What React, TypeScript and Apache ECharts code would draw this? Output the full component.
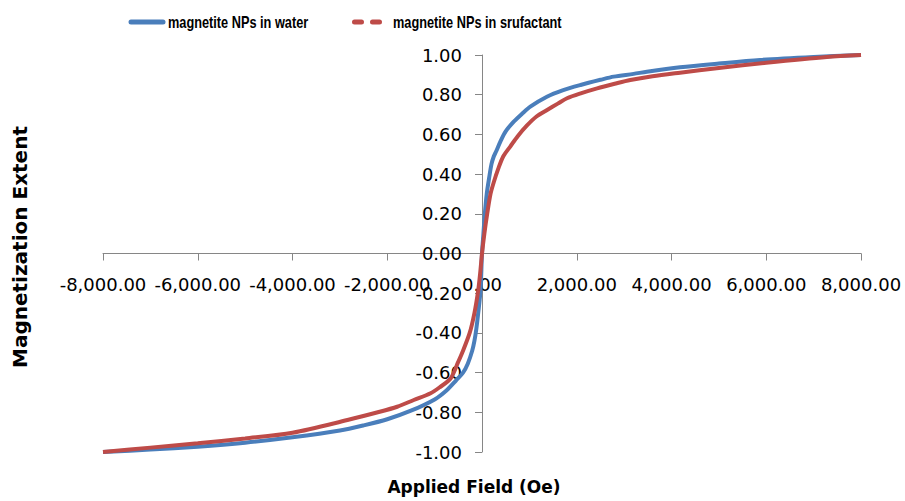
import React, { useEffect, useRef } from "react";
import * as echarts from "echarts";

const waterX = [-8000, -7000, -6000, -5000, -4000, -3000, -2500, -2000, -1500, -1000, -750, -550, -400, -300, -207, -160, -120, -80, -31, 0, 30, 60, 100, 150, 200, 250, 300, 390, 500, 670, 850, 1020, 1370, 1700, 2080, 2500, 2780, 3200, 3480, 4180, 5000, 5870, 7000, 8000];
const waterY = [-1.0, -0.988, -0.973, -0.953, -0.926, -0.892, -0.866, -0.835, -0.792, -0.735, -0.69, -0.64, -0.6, -0.555, -0.49, -0.44, -0.38, -0.3, -0.185, 0.0, 0.1, 0.2, 0.3, 0.38, 0.45, 0.49, 0.515, 0.565, 0.615, 0.664, 0.705, 0.74, 0.79, 0.822, 0.849, 0.875, 0.891, 0.905, 0.916, 0.938, 0.957, 0.975, 0.99, 1.0];

const surfX = [-8000, -7000, -6000, -5000, -4000, -2840, -2200, -1790, -1440, -1085, -900, -664, -500, -418, -260, -160, -80, -35, 0, 50, 110, 180, 250, 340, 450, 600, 750, 950, 1150, 1374, 1600, 1795, 2100, 2430, 2800, 3130, 3600, 4180, 5000, 6000, 7280, 8000];
const surfY = [-1.0, -0.978, -0.956, -0.932, -0.903, -0.839, -0.8, -0.772, -0.738, -0.704, -0.675, -0.63, -0.545, -0.5, -0.4, -0.3, -0.185, -0.09, 0, 0.1, 0.2, 0.3, 0.36, 0.425, 0.49, 0.54, 0.59, 0.645, 0.69, 0.723, 0.755, 0.782, 0.808, 0.832, 0.855, 0.874, 0.893, 0.911, 0.935, 0.961, 0.99, 1.0];

const seriesNames = ["magnetite NPs in water", "magnetite NPs in srufactant"];
const xTitle = "Applied Field (Oe)";
const yTitle = "Magnetization Extent";

const BLUE = "#4A7EBB";
const RED = "#BE4B48";

const GRID = { left: 103, right: 44, top: 55, bottom: 49 };
const W = 905;
const H = 501;

function fmt(v: number): string {
  const neg = v < 0;
  const abs = Math.abs(v);
  const fixed = abs.toFixed(2);
  const [intPart, dec] = fixed.split(".");
  const withSep = intPart.replace(/\B(?=(\d{3})+(?!\d))/g, ",");
  const s = withSep + "." + dec;
  return (neg && abs >= 0.005 ? "-" : "") + s;
}

export default function App() {
  const ref = useRef<HTMLDivElement>(null);
  useEffect(() => {
    const chart = echarts.init(ref.current!, null, { renderer: "svg" });
    const axisColor = "#868686";
    const xMin = -8000, xMax = 8000, yMin = -1, yMax = 1;
    const plotW = W - GRID.left - GRID.right;
    const plotH = H - GRID.top - GRID.bottom;
    // shift axes so they cross at the origin (0, 0)
    const yAxisOffset = -((0 - xMin) / (xMax - xMin)) * plotW;
    const xAxisOffset = -((0 - yMin) / (yMax - yMin)) * plotH;
    chart.setOption({
      animation: false,
      backgroundColor: "#ffffff",
      grid: { ...GRID, containLabel: false, outerBoundsMode: "none" },
      xAxis: {
        type: "value",
        min: xMin,
        max: xMax,
        interval: 2000,
        position: "bottom",
        offset: xAxisOffset,
        axisLine: { onZero: false, lineStyle: { color: axisColor, width: 1 } },
        axisTick: { show: true, length: 7, lineStyle: { color: axisColor } },
        splitLine: { show: false },
        axisLabel: {
          formatter: (v: number) => fmt(v),
          fontFamily: "DejaVu Sans",
          fontSize: 18,
          color: "#000",
          margin: 22,
          showMinLabel: true,
          showMaxLabel: true,
          hideOverlap: false,
        },
      },
      yAxis: {
        type: "value",
        min: yMin,
        max: yMax,
        interval: 0.2,
        position: "left",
        offset: yAxisOffset,
        axisLine: { onZero: false, lineStyle: { color: axisColor, width: 1 } },
        axisTick: { show: true, length: 7, lineStyle: { color: axisColor } },
        splitLine: { show: false },
        axisLabel: {
          formatter: (v: number) => fmt(v),
          fontFamily: "DejaVu Sans",
          fontSize: 18,
          color: "#000",
          margin: 20,
          showMinLabel: true,
          showMaxLabel: true,
          hideOverlap: false,
        },
      },
      graphic: [
        {
          type: "text",
          x: 474,
          y: 487,
          style: {
            text: xTitle,
            font: 'bold 17px "DejaVu Sans", sans-serif',
            fill: "#000",
            align: "center",
            verticalAlign: "middle",
          },
        },
        {
          type: "text",
          x: 20,
          y: 247,
          rotation: Math.PI / 2,
          style: {
            text: yTitle,
            font: 'bold 20px "DejaVu Sans", sans-serif',
            fill: "#000",
            align: "center",
            verticalAlign: "middle",
          },
        },
        {
          type: "line",
          shape: { x1: 131, y1: 22, x2: 163, y2: 22 },
          style: { stroke: BLUE, lineWidth: 5, lineCap: "round" },
        },
        {
          type: "text",
          x: 168,
          y: 22,
          scaleX: 0.75,
          style: {
            text: seriesNames[0],
            font: 'bold 17px "Liberation Sans", Arial, sans-serif',
            fill: "#000",
            verticalAlign: "middle",
            align: "left",
          },
        },
        {
          type: "line",
          shape: { x1: 354.5, y1: 22, x2: 380, y2: 22 },
          style: { stroke: RED, lineWidth: 5, lineCap: "round", lineDash: [7, 11] },
        },
        {
          type: "text",
          x: 393,
          y: 22,
          scaleX: 0.75,
          style: {
            text: seriesNames[1],
            font: 'bold 17px "Liberation Sans", Arial, sans-serif',
            fill: "#000",
            verticalAlign: "middle",
            align: "left",
          },
        },
      ],
      series: [
        {
          name: seriesNames[0],
          type: "line",
          data: waterX.map((x, i) => [x, waterY[i]]),
          showSymbol: false,
          smooth: 0.3,
          lineStyle: { color: BLUE, width: 4 },
          itemStyle: { color: BLUE },
          z: 2,
        },
        {
          name: seriesNames[1],
          type: "line",
          data: surfX.map((x, i) => [x, surfY[i]]),
          showSymbol: false,
          smooth: 0.3,
          lineStyle: { color: RED, width: 4 },
          itemStyle: { color: RED },
          z: 3,
        },
      ],
    });
    return () => chart.dispose();
  }, []);
  return (
    <div
      ref={ref}
      style={{ position: "fixed", left: 0, top: 0, width: W, height: H, background: "#fff" }}
    />
  );
}
